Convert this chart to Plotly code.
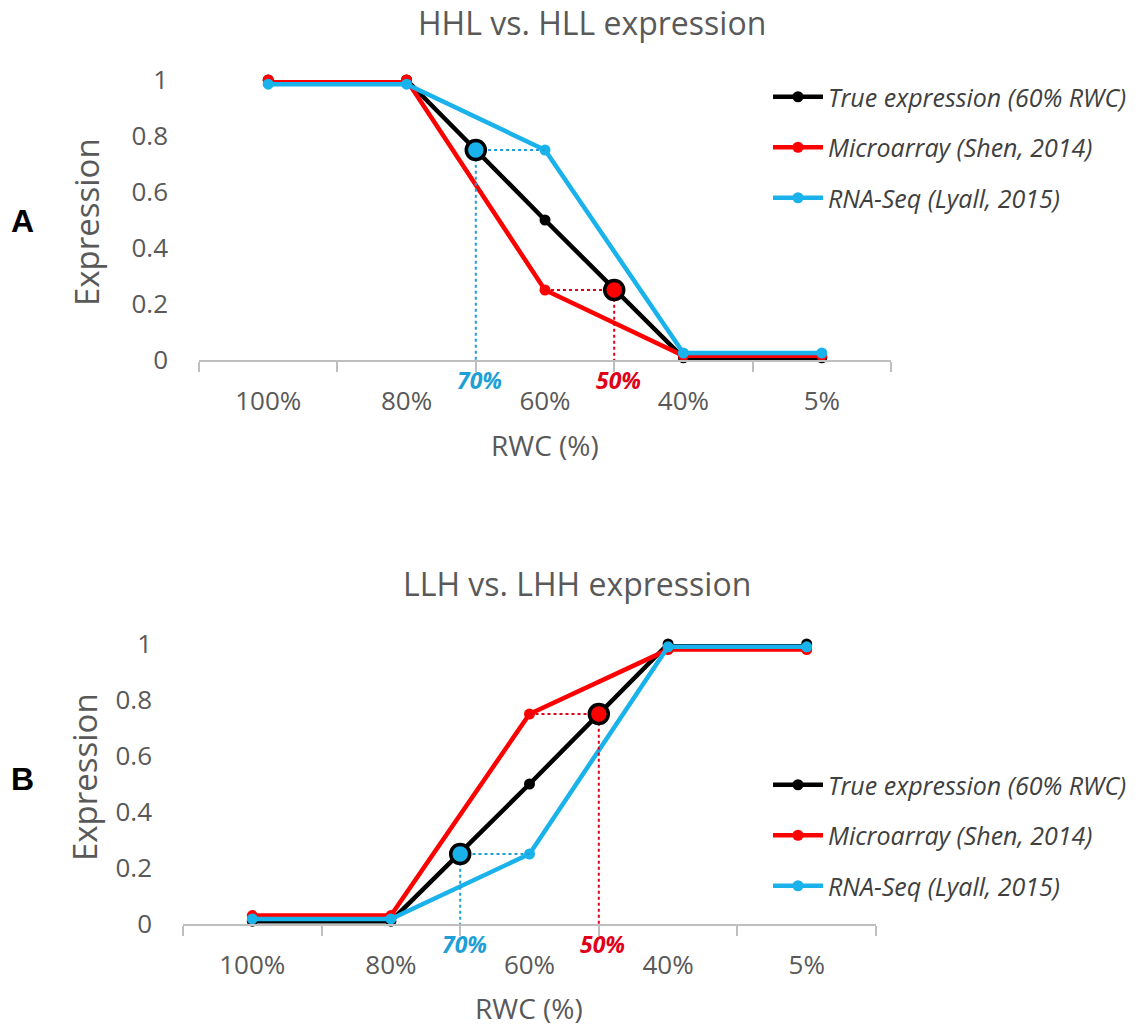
import plotly.graph_objects as go

# RWC categories along the x axis (driest on the right)
CATS = ["100%", "80%", "60%", "40%", "5%"]

# Panel A: HHL vs. HLL expression
A_TRUE = [1.0, 1.0, 0.5, 0.008, 0.008]
A_MICRO = [1.0, 1.0, 0.25, 0.015, 0.015]
A_RNA = [0.985, 0.985, 0.75, 0.025, 0.025]

# Panel B: LLH vs. LHH expression
B_TRUE = [0.01, 0.01, 0.5, 1.0, 1.0]
B_MICRO = [0.03, 0.03, 0.75, 0.98, 0.98]
B_RNA = [0.018, 0.018, 0.25, 0.99, 0.99]

# Apparent RWC at which the true curve reaches each method's 60% value
HL_LABELS = ["70%", "50%"]
HL_BETWEEN = [("80%", "60%"), ("60%", "40%")]
A_HL_VALUES = [0.75, 0.25]
B_HL_VALUES = [0.25, 0.75]

SERIES_NAMES = ["True expression (60% RWC)", "Microarray (Shen, 2014)", "RNA-Seq (Lyall, 2015)"]
COL_BLACK = "#000000"
COL_RED = "#FF0000"
COL_BLUE = "#1AB2EA"
HL_COLORS = [COL_BLUE, COL_RED]
DOT_COLORS = ["#1E9FD6", "#E0001A"]
GREY_TXT = "#595959"
AXIS_GREY = "#BFBFBF"
FONT = "Open Sans"

W, H = 1139, 1028
xpos = list(range(len(CATS)))
hl_x = [(CATS.index(a) + CATS.index(b)) / 2 for a, b in HL_BETWEEN]
mid_idx = CATS.index("60%")

fig = go.Figure()


def add_panel(true_v, micro_v, rna_v, hl_vals, xa, ya, legend):
    for name, vals, col in zip(SERIES_NAMES, [true_v, micro_v, rna_v], [COL_BLACK, COL_RED, COL_BLUE]):
        fig.add_trace(go.Scatter(
            x=xpos, y=vals, name=name, mode="lines+markers",
            line=dict(color=col, width=4.5), marker=dict(color=col, size=11),
            xaxis=xa, yaxis=ya, legend=legend, legendgroup=name + legend,
            cliponaxis=False,
        ))
    # dotted leaders: horizontal to the 60% point, vertical down to the axis
    for hx, hv, col in zip(hl_x, hl_vals, DOT_COLORS):
        fig.add_trace(go.Scatter(
            x=[xpos[mid_idx], hx, hx], y=[hv, hv, 0], mode="lines",
            line=dict(color=col, width=2, dash="dot"),
            xaxis=xa, yaxis=ya, showlegend=False, hoverinfo="skip", cliponaxis=False,
        ))
    for hx, hv, col in zip(hl_x, hl_vals, HL_COLORS):
        fig.add_trace(go.Scatter(
            x=[hx], y=[hv], mode="markers",
            marker=dict(color=col, size=19, line=dict(color=COL_BLACK, width=3.5)),
            xaxis=xa, yaxis=ya, showlegend=False, cliponaxis=False,
        ))


add_panel(A_TRUE, A_MICRO, A_RNA, A_HL_VALUES, "x", "y", "legend")
add_panel(B_TRUE, B_MICRO, B_RNA, B_HL_VALUES, "x2", "y2", "legend2")


def xaxis_style(domain, anchor):
    return dict(
        domain=domain, anchor=anchor, range=[-0.5, len(CATS) - 0.5], automargin=False,
        tickmode="array", tickvals=xpos, ticktext=CATS, ticks="",
        showline=True, linecolor=AXIS_GREY, linewidth=1.5,
        showgrid=False, zeroline=False,
        tickfont=dict(family=FONT, size=26, color=GREY_TXT),
        ticklabelstandoff=17,
        minor=dict(tickmode="array", tickvals=[i - 0.5 for i in range(len(CATS) + 1)],
                   ticks="outside", ticklen=10, tickcolor=AXIS_GREY, tickwidth=1.5,
                   showgrid=False),
    )


def yaxis_style(domain, anchor, standoff):
    yt = [0, 0.2, 0.4, 0.6, 0.8, 1]
    return dict(
        domain=domain, anchor=anchor, range=[0, 1], automargin=False,
        tickmode="array", tickvals=yt, ticktext=["0", "0.2", "0.4", "0.6", "0.8", "1"],
        ticks="", showline=False, showgrid=False, zeroline=False,
        tickfont=dict(family=FONT, size=26, color=GREY_TXT),
        ticklabelstandoff=standoff,
    )


legend_common = dict(
    font=dict(family=FONT, size=25, color="#404040", style="italic"),
    bgcolor="rgba(0,0,0,0)", tracegroupgap=15, xanchor="left", yanchor="top",
    itemwidth=50,
)

fig.update_layout(
    width=W, height=H, margin=dict(l=0, r=0, t=0, b=0, autoexpand=False),
    paper_bgcolor="white", plot_bgcolor="white",
    xaxis=xaxis_style([199 / W, 891 / W], "y"),
    yaxis=yaxis_style([1 - 360 / H, 1 - 80 / H], "x", 30),
    xaxis2=xaxis_style([183 / W, 876 / W], "y2"),
    yaxis2=yaxis_style([1 - 924 / H, 1 - 644 / H], "x2", 30),
    legend=dict(x=768 / W, y=1 - 74 / H, **legend_common),
    legend2=dict(x=768 / W, y=1 - 762 / H, **legend_common),
    showlegend=True,
)

annotations = []


def paper_text(text, cx, cy, size, color=GREY_TXT, angle=0, family=FONT):
    return dict(text=text, x=cx / W, y=1 - cy / H, xref="paper", yref="paper",
                xanchor="center", yanchor="middle", textangle=angle, showarrow=False,
                font=dict(family=family, size=size, color=color))


# chart titles
annotations.append(paper_text("HHL vs. HLL expression", 592, 22, 32))
annotations.append(paper_text("LLH vs. LHH expression", 577, 583, 32))
# axis titles
annotations.append(paper_text("Expression", 86, 222, 33, angle=-90))
annotations.append(paper_text("Expression", 84, 777, 33, angle=-90))
annotations.append(paper_text("RWC (%)", 545, 445, 28))
annotations.append(paper_text("RWC (%)", 529, 1008, 28))
# panel letters
annotations.append(paper_text("<b>A</b>", 22, 221, 32, color="#000000", family="Liberation Sans"))
annotations.append(paper_text("<b>B</b>", 22, 779, 32, color="#000000", family="Liberation Sans"))
# apparent-RWC labels under the axis
for xa, ya in [("x", "y"), ("x2", "y2")]:
    for hx, lab, col in zip(hl_x, HL_LABELS, DOT_COLORS):
        annotations.append(dict(text="<b><i>" + lab + "</i></b>", x=hx, y=0, xref=xa, yref=ya,
                                showarrow=False, xanchor="center", yanchor="middle",
                                yshift=-20, xshift=4,
                                font=dict(family=FONT, size=23, color=col)))
fig.update_layout(annotations=annotations)

fig.write_html("out.html")
